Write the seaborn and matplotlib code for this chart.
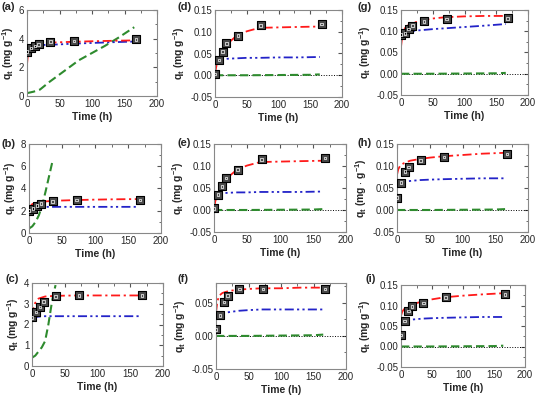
#!/usr/bin/env python
import matplotlib
matplotlib.use("Agg")
import matplotlib.pyplot as plt
from matplotlib import ticker
import numpy as np
import pandas as pd
import seaborn as sns

# measured uptake (squares)
t_obs = [0, 6, 12, 18, 36, 72, 168]
q_obs = {
    "a": [3.1, 3.35, 3.5, 3.6, 3.8, 3.85, 3.95],
    "b": [2.0, 2.2, 2.45, 2.65, 2.85, 2.95, 2.95],
    "c": [2.35, 2.6, 2.85, 3.1, 3.35, 3.4, 3.4],
    "d": [0.003, 0.035, 0.054, 0.073, 0.091, 0.115, 0.118],
    "e": [0.004, 0.035, 0.054, 0.073, 0.092, 0.115, 0.118],
    "f": [0.010, 0.031, 0.051, 0.061, 0.071, 0.071, 0.071],
    "g": [0.092, 0.095, 0.105, 0.113, 0.123, 0.129, 0.130],
    "h": [0.028, 0.062, 0.087, 0.098, 0.113, 0.120, 0.127],
    "i": [0.028, 0.062, 0.087, 0.098, 0.106, 0.120, 0.127],
}

# fitted curves: (time, q)
red_t = [0, 2, 5, 10, 20, 35, 50, 70, 100, 130, 165]
red_q = {
    "a": [2.2, 3.2, 3.5, 3.62, 3.68, 3.72, 3.75, 3.78, 3.82, 3.85, 3.88],
    "b": [2.0, 2.4, 2.6, 2.72, 2.82, 2.88, 2.92, 2.96, 3.0, 3.03, 3.05],
    "c": [2.4, 2.8, 3.05, 3.25, 3.35, 3.38, 3.39, 3.4, 3.4, 3.4, 3.4],
    "d": [0.003, 0.02, 0.035, 0.05, 0.073, 0.092, 0.101, 0.109, 0.110, 0.111, 0.112],
    "e": [0.003, 0.02, 0.035, 0.05, 0.073, 0.092, 0.101, 0.109, 0.110, 0.111, 0.112],
    "f": [0.035, 0.052, 0.061, 0.065, 0.068, 0.070, 0.071, 0.072, 0.072, 0.073, 0.073],
    "g": [0.063, 0.09, 0.105, 0.113, 0.12, 0.126, 0.13, 0.133, 0.135, 0.136, 0.136],
    "h": [0.080, 0.093, 0.101, 0.106, 0.112, 0.116, 0.119, 0.122, 0.125, 0.128, 0.130],
    "i": [0.075, 0.085, 0.091, 0.096, 0.104, 0.110, 0.115, 0.120, 0.124, 0.127, 0.130],
}
blue_t = [0, 5, 10, 20, 35, 50, 70, 100, 130, 165]
blue_q = {
    "a": [3.2, 3.4, 3.5, 3.55, 3.58, 3.6, 3.65, 3.7, 3.75, 3.8],
    "b": [2.3, 2.35, 2.35, 2.35, 2.35, 2.35, 2.35, 2.35, 2.35, 2.35],
    "c": [2.3, 2.35, 2.38, 2.4, 2.4, 2.4, 2.4, 2.4, 2.4, 2.4],
    "d": [0.030, 0.034, 0.036, 0.038, 0.039, 0.040, 0.040, 0.041, 0.041, 0.042],
    "e": [0.030, 0.035, 0.037, 0.039, 0.040, 0.040, 0.041, 0.041, 0.041, 0.042],
    "f": [0.031, 0.033, 0.034, 0.036, 0.038, 0.039, 0.040, 0.040, 0.040, 0.040],
    "g": [0.095, 0.097, 0.099, 0.101, 0.103, 0.105, 0.107, 0.110, 0.113, 0.117],
    "h": [0.060, 0.063, 0.064, 0.066, 0.068, 0.069, 0.070, 0.071, 0.072, 0.072],
    "i": [0.060, 0.063, 0.064, 0.066, 0.068, 0.069, 0.070, 0.071, 0.072, 0.072],
}
green_t = {
    "a": [0, 10, 20, 35, 50, 65, 80, 100, 120, 140, 165],
    "b": [0, 5, 10, 15, 20, 25, 30, 35],
    "c": [0, 5, 10, 15, 20, 25, 30, 33, 36],
}
green_q = {
    "a": [0.2, 0.3, 0.45, 1.0, 1.5, 2.0, 2.5, 3.0, 3.5, 4.05, 4.8],
    "b": [0.4, 0.6, 1.0, 1.6, 2.5, 3.7, 5.0, 6.3],
    "c": [0.4, 0.5, 0.7, 0.9, 1.2, 2.0, 3.0, 3.5, 3.9],
}
green_flat_t = [0, 50, 100, 150, 165]
green_flat_q = [0.0, 0.0, 0.0005, 0.001, 0.002]

ylims = {"a": (0, 6), "b": (0, 8), "c": (0, 4), "d": (-0.05, 0.15),
         "e": (-0.05, 0.15), "f": (-0.05, 0.08), "g": (-0.05, 0.15),
         "h": (-0.05, 0.15), "i": (-0.05, 0.15)}
ysteps = {"a": 2, "b": 2, "c": 1}

# axes boxes in pixels: left, top, right, bottom
boxes = {
    "a": (27, 10, 157, 96), "d": (215, 10, 342, 97), "g": (401, 10, 528, 95),
    "b": (29, 144, 161, 233), "e": (214, 144, 346, 232), "h": (397, 144, 528, 232),
    "c": (32, 283, 163, 366), "f": (216, 283, 346, 369), "i": (401, 285, 525, 367),
}
label_pos = {"a": (1, 7), "d": (177, 7), "g": (357, 7),
             "b": (2, 144), "e": (177, 143), "h": (357, 143),
             "c": (5, 279), "f": (177, 279), "i": (365, 279)}

W, H = 539, 397
sns.set_style("white")
plt.rcParams["font.family"] = ["Liberation Sans", "DejaVu Sans"]
plt.rcParams["mathtext.fontset"] = "custom"
plt.rcParams["mathtext.rm"] = "Liberation Sans"
plt.rcParams["mathtext.bf"] = "Liberation Sans:bold"
fig = plt.figure(figsize=(W / 100, H / 100), dpi=100)

red_ls = (0, (5, 2, 1.2, 2))
blue_ls = (0, (5, 1.8, 1.2, 1.8, 1.2, 1.8))
green_ls = (0, (4, 2))

for key, (l, t, r, b) in boxes.items():
    ax = fig.add_axes([l / W, 1 - b / H, (r - l) / W, (b - t) / H])
    small = key not in ("a", "b", "c")

    if small:
        ax.plot([0, 200], [0, 0], ls=":", lw=0.7, color="k")
        sns.lineplot(x=green_flat_t, y=green_flat_q, ax=ax, color="#2e8b2e",
                     lw=1.5, ls=green_ls)
    else:
        sns.lineplot(x=green_t[key], y=green_q[key], ax=ax, color="#2e8b2e",
                     lw=1.5, ls=green_ls, sort=False)
    sns.lineplot(x=blue_t, y=blue_q[key], ax=ax, color="#2323c8", lw=1.3, ls=blue_ls)
    sns.lineplot(x=red_t, y=red_q[key], ax=ax, color="#ff1a1a", lw=1.3, ls=red_ls)

    df = pd.DataFrame({"t": t_obs, "q": q_obs[key]})
    sns.scatterplot(data=df, x="t", y="q", ax=ax, marker="s", s=26,
                    facecolor="#4a4a4a", edgecolor="black", linewidth=0.8, zorder=5)
    sns.scatterplot(data=df, x="t", y="q", ax=ax, marker="s", s=3.5,
                    facecolor="none", edgecolor="white", linewidth=0.5, zorder=6)

    ax.set_xlim(0, 200)
    ax.set_ylim(*ylims[key])
    ax.xaxis.set_major_locator(ticker.MultipleLocator(50))
    ax.xaxis.set_minor_locator(ticker.MultipleLocator(25))
    if small:
        ax.yaxis.set_major_locator(ticker.MultipleLocator(0.05))
        ax.yaxis.set_minor_locator(ticker.MultipleLocator(0.025))
        ax.yaxis.set_major_formatter(ticker.FormatStrFormatter("%.2f"))
    else:
        ax.yaxis.set_major_locator(ticker.MultipleLocator(ysteps[key]))
        ax.yaxis.set_minor_locator(ticker.MultipleLocator(ysteps[key] / 2))
    ax.tick_params(which="both", direction="in", top=True, right=True,
                   labelsize=7, color="#555555", pad=2)
    ax.tick_params(which="major", length=3)
    ax.tick_params(which="minor", length=1.8)
    for sp in ax.spines.values():
        sp.set_color("#888888")
        sp.set_linewidth(0.8)

    ax.set_xlabel("Time (h)", fontsize=7.5, fontweight="bold", labelpad=2)
    ylab = r"$\mathbf{q_t}$ (mg $\cdot$ g$^{\mathbf{-1}}$)" if key == "h" \
        else r"$\mathbf{q_t}$ (mg g$^{\mathbf{-1}}$)"
    ax.set_ylabel(ylab, fontsize=7.5, fontweight="bold", labelpad=2)

    lx, ly = label_pos[key]
    fig.text(lx / W, 1 - ly / H, f"({key})", fontsize=8, fontweight="bold",
             va="center", ha="left")

fig.savefig("out.png", dpi=100)
